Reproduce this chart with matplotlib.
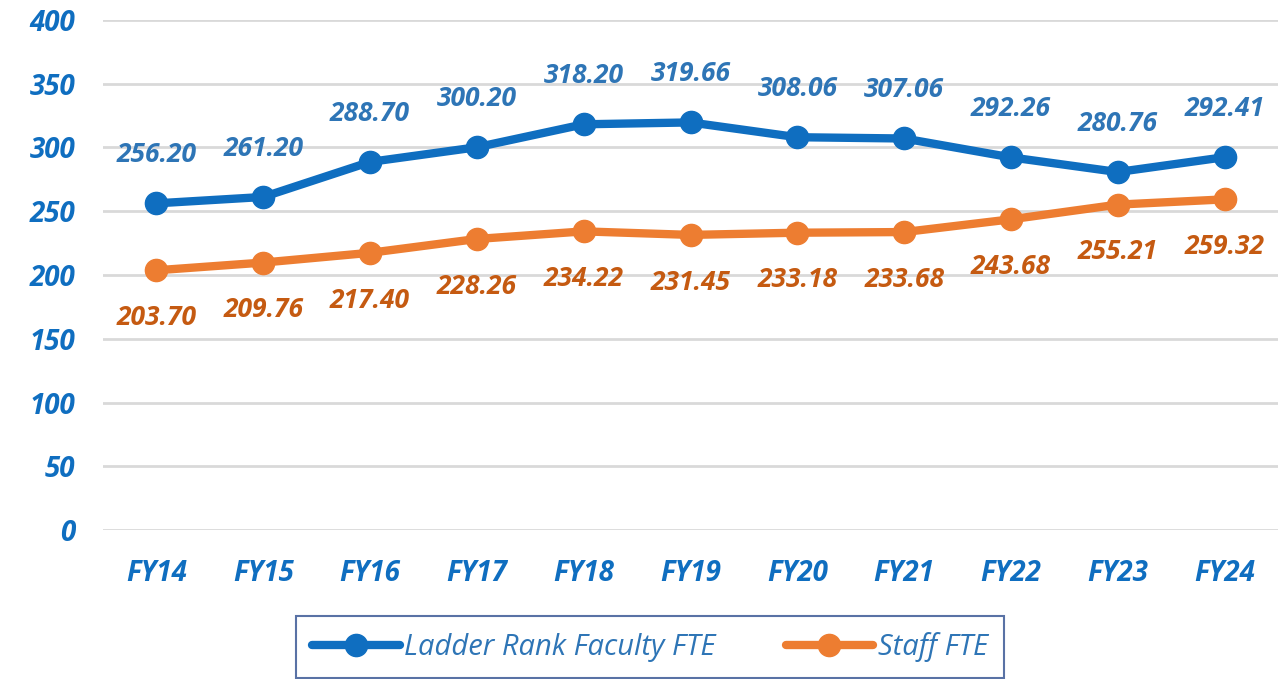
import matplotlib.pyplot as plt

years = ["FY14", "FY15", "FY16", "FY17", "FY18", "FY19", "FY20", "FY21", "FY22", "FY23", "FY24"]
faculty = [256.20, 261.20, 288.70, 300.20, 318.20, 319.66, 308.06, 307.06, 292.26, 280.76, 292.41]
staff = [203.70, 209.76, 217.40, 228.26, 234.22, 231.45, 233.18, 233.68, 243.68, 255.21, 259.32]

BLUE = "#0F6EC0"
BLUE_LBL = "#2E75B6"
ORANGE = "#ED7D31"
ORANGE_LBL = "#C55A11"
FONT = "Open Sans"

fig = plt.figure(figsize=(12.79, 6.79), dpi=100)
ax = fig.add_axes([103 / 1279, 1 - 530 / 679, 1175 / 1279, 510 / 679])

x = list(range(len(years)))
ax.plot(x, faculty, color=BLUE, lw=6, marker="o", ms=16, solid_capstyle="round",
        label="Ladder Rank Faculty FTE", zorder=3)
ax.plot(x, staff, color=ORANGE, lw=6, marker="o", ms=16, solid_capstyle="round",
        label="Staff FTE", zorder=3)

for i, v in enumerate(faculty):
    ax.annotate(f"{v:.2f}", (i, v), xytext=(0, 35), textcoords="offset points",
                ha="center", va="center", color=BLUE_LBL, fontsize=19,
                fontweight="bold", fontstyle="italic", family=FONT)
for i, v in enumerate(staff):
    ax.annotate(f"{v:.2f}", (i, v), xytext=(0, -34), textcoords="offset points",
                ha="center", va="center", color=ORANGE_LBL, fontsize=19,
                fontweight="bold", fontstyle="italic", family=FONT)

ax.set_xlim(-0.5, len(years) - 0.5)
ax.set_ylim(0, 400)
ax.set_yticks(range(0, 401, 50))
ax.set_xticks(x)
ax.set_xticklabels(years)
for lbl in ax.get_xticklabels() + ax.get_yticklabels():
    lbl.set_color(BLUE)
    lbl.set_fontsize(20)
    lbl.set_fontweight("bold")
    lbl.set_fontstyle("italic")
    lbl.set_family(FONT)
ax.tick_params(length=0)
ax.tick_params(axis="x", pad=21)
ax.tick_params(axis="y", pad=20)
ax.grid(axis="y", color="#D9D9D9", lw=2)
ax.set_axisbelow(True)
for s in ax.spines.values():
    s.set_visible(False)

leg = fig.legend(loc="center", bbox_to_anchor=(650 / 1279, 1 - 647 / 679),
                 ncol=2, frameon=True, fancybox=False, handlelength=3.0,
                 columnspacing=2.4, handletextpad=0.15, borderpad=0.55,
                 borderaxespad=0,
                 prop={"family": FONT, "style": "italic", "size": 21})
leg.get_frame().set_edgecolor("#2F4F8F")
leg.get_frame().set_linewidth(1.5)
for t in leg.get_texts():
    t.set_color(BLUE_LBL)

fig.savefig("out.png", dpi=100)
